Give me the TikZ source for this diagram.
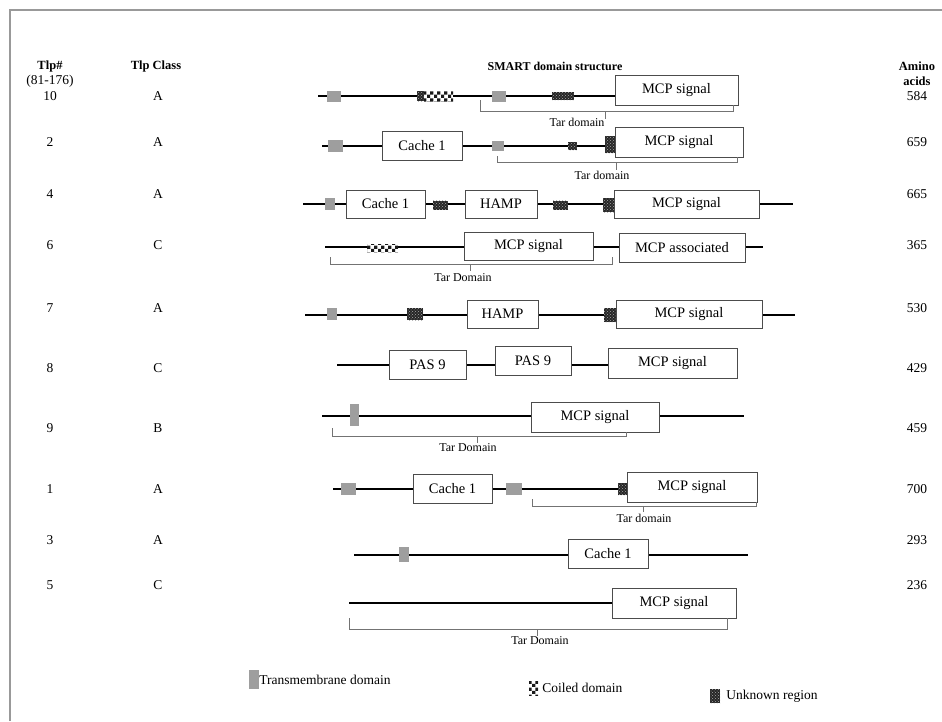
\documentclass[tikz,border=0pt]{standalone}
\usepackage{fontspec}
\setmainfont{Liberation Serif}
\usetikzlibrary{patterns, patterns.meta}

\tikzdeclarepattern{
  name=damier, type=uncolored,
  bottom left={(0pt,0pt)}, top right={(7pt,7pt)},
  tile size={(7pt,7pt)},
  code={
    \fill (0pt,0pt) rectangle (3.5pt,3.5pt);
    \fill (3.5pt,3.5pt) rectangle (7pt,7pt);
  }
}

\begin{document}
\begin{tikzpicture}[
  x=1pt, y=-1pt,
  taglia/.style 2 args={minimum width=#1pt, minimum height=#2pt},
  catena/.style={draw=black, line width=2.4pt},
  dominio/.style={draw=black!70, line width=0.9pt, fill=white, inner sep=0pt,
                  font=\fontsize{14.5}{16}\selectfont},
  tm/.style={fill=black!38, inner sep=0pt},
  spirale/.style={fill=white, inner sep=0pt,
                  postaction={pattern=damier, pattern color=black!90}},
  ignoto/.style={fill=black!85, inner sep=0pt,
                 postaction={pattern=crosshatch dots, pattern color=black!35}},
  staffa/.style={draw=black!55, line width=0.8pt},
  etichetta/.style={inner sep=1pt, font=\fontsize{13.5}{15}\selectfont},
  tar/.style={inner sep=1pt, font=\fontsize{12}{13}\selectfont},
  testata/.style={inner sep=1pt, font=\bfseries\fontsize{12.5}{14}\selectfont}
]
\useasboundingbox (0,0) rectangle (942,721);

% ---- cornice (solo lato sinistro e superiore visibili)
\draw[black!40, line width=1.5pt] (10,721) -- (10,10) -- (942,10);

% ---- intestazione -------------------------------------------------
\node[testata] (hnum) at (50,66) {Tlp\#};
\node[etichetta] (hrange) at (50,81) {(81-176)};
\node[testata] (hcls) at (156,66) {Tlp Class};
\node[testata, font=\bfseries\fontsize{12}{14}\selectfont] (hsmart) at (555,66) {SMART domain structure};
\node[testata] (hamino) at (917,66) {Amino};
\node[testata] (hacids) at (917,81) {acids};

\foreach \n/\c/\a/\y in {10/A/584/96, 2/A/659/142, 4/A/665/194, 6/C/365/245,
                         7/A/530/308, 8/C/429/368, 9/B/459/428, 1/A/700/489,
                         3/A/293/540, 5/C/236/585} {
  \node[etichetta] (num\n) at (50,\y) {\n};
  \node[etichetta] (cls\n) at (158,\y) {\c};
  \node[etichetta] (aa\n) at (917,\y) {\a};
}

% ---- Tlp 10 ---------------------------------------------------------
\coordinate (r10s) at (318,96);
\coordinate (r10e) at (615,96);
\draw[catena] (r10s) -- (r10e);
\node[tm, taglia={14}{11}] (r10tm1) at (334,96.5) {};
\node[ignoto, taglia={7}{10}] (r10ig1) at (420.5,96) {};
\node[spirale, taglia={29}{10}] (r10cc) at (438.5,96) {};
\node[tm, taglia={14}{11}] (r10tm2) at (499,96.5) {};
\node[ignoto, taglia={22}{8}] (r10ig2) at (563,96) {};
\node[dominio, taglia={123}{30}] (r10mcp) at (676.5,90) {MCP signal};
\draw[staffa] (480,100) -- (480,111) -| (733,105);
\draw[staffa] (605,111) -- (605,119);
\node[tar] (r10tar) at (577,122) {Tar domain};

% ---- Tlp 2 ----------------------------------------------------------
\coordinate (r2s) at (322,146);
\coordinate (r2e) at (615,146);
\draw[catena] (r2s) -- (r2e);
\node[tm, taglia={15}{12}] (r2tm1) at (335.5,146) {};
\node[dominio, taglia={80}{29}] (r2cache) at (422,145.5) {Cache 1};
\node[tm, taglia={12}{10}] (r2tm2) at (498,146) {};
\node[ignoto, taglia={9}{8}] (r2ig1) at (572.5,146) {};
\node[ignoto, taglia={10}{17}] (r2ig2) at (610,144.5) {};
\node[dominio, taglia={128}{30}] (r2mcp) at (679,142) {MCP signal};
\draw[staffa] (497,156) -- (497,162) -| (737,157);
\draw[staffa] (616,162) -- (616,170);
\node[tar] (r2tar) at (602,175) {Tar domain};

% ---- Tlp 4 ----------------------------------------------------------
\coordinate (r4s) at (303,204);
\coordinate (r4e) at (793,204);
\draw[catena] (r4s) -- (r4e);
\node[tm, taglia={10}{12}] (r4tm) at (330,204) {};
\node[dominio, taglia={79}{28}] (r4cache) at (385.5,204) {Cache 1};
\node[ignoto, taglia={15}{9}] (r4ig1) at (440.5,205) {};
\node[dominio, taglia={72}{28}] (r4hamp) at (501,204) {HAMP};
\node[ignoto, taglia={15}{9}] (r4ig2) at (560.5,205) {};
\node[ignoto, taglia={11}{14}] (r4ig3) at (608.5,205) {};
\node[dominio, taglia={145}{28}] (r4mcp) at (686.5,204) {MCP signal};

% ---- Tlp 6 ----------------------------------------------------------
\coordinate (r6s) at (325,247);
\coordinate (r6e) at (763,247);
\draw[catena] (r6s) -- (r6e);
\node[spirale, taglia={31}{8}] (r6cc) at (382.5,248) {};
\node[dominio, taglia={129}{28}] (r6mcp) at (528.5,246) {MCP signal};
\node[dominio, taglia={126}{29}] (r6assoc) at (682,247.5) {MCP associated};
\draw[staffa] (330,257) -- (330,264) -| (612,257);
\draw[staffa] (470,264) -- (470,271);
\node[tar] (r6tar) at (463,278) {Tar Domain};

% ---- Tlp 7 ----------------------------------------------------------
\coordinate (r7s) at (305,315);
\coordinate (r7e) at (795,315);
\draw[catena] (r7s) -- (r7e);
\node[tm, taglia={10}{12}] (r7tm) at (332,314) {};
\node[ignoto, taglia={16}{12}] (r7ig1) at (415,314) {};
\node[dominio, taglia={71}{28}] (r7hamp) at (502.5,314) {HAMP};
\node[ignoto, taglia={12}{14}] (r7ig2) at (610,315) {};
\node[dominio, taglia={146}{28}] (r7mcp) at (689,314) {MCP signal};

% ---- Tlp 8 ----------------------------------------------------------
\coordinate (r8s) at (337,365);
\coordinate (r8e) at (608,365);
\draw[catena] (r8s) -- (r8e);
\node[dominio, taglia={77}{29}] (r8pas1) at (427.5,364.5) {PAS 9};
\node[dominio, taglia={76}{29}] (r8pas2) at (533,360.5) {PAS 9};
\node[dominio, taglia={129}{30}] (r8mcp) at (672.5,363) {MCP signal};

% ---- Tlp 9 ----------------------------------------------------------
\coordinate (r9s) at (322,416);
\coordinate (r9e) at (744,416);
\draw[catena] (r9s) -- (r9e);
\node[tm, taglia={9}{22}] (r9tm) at (354.5,415) {};
\node[dominio, taglia={128}{30}] (r9mcp) at (595,417) {MCP signal};
\draw[staffa] (332,428) -- (332,436) -| (626,432);
\draw[staffa] (477,436) -- (477,443);
\node[tar] (r9tar) at (468,448) {Tar Domain};

% ---- Tlp 1 ----------------------------------------------------------
\coordinate (r1s) at (333,489);
\coordinate (r1e) at (627,489);
\draw[catena] (r1s) -- (r1e);
\node[tm, taglia={15}{12}] (r1tm1) at (348.5,489) {};
\node[dominio, taglia={79}{29}] (r1cache) at (452.5,488.5) {Cache 1};
\node[tm, taglia={16}{12}] (r1tm2) at (514,489) {};
\node[ignoto, taglia={9}{12}] (r1ig) at (622.5,489) {};
\node[dominio, taglia={130}{30}] (r1mcp) at (692,487) {MCP signal};
\draw[staffa] (532,499) -- (532,506) -| (756,502);
\draw[staffa] (643,506) -- (643,512);
\node[tar] (r1tar) at (644,518) {Tar domain};

% ---- Tlp 3 ----------------------------------------------------------
\coordinate (r3s) at (354,555);
\coordinate (r3e) at (748,555);
\draw[catena] (r3s) -- (r3e);
\node[tm, taglia={10}{15}] (r3tm) at (404,554.5) {};
\node[dominio, taglia={80}{29}] (r3cache) at (608,553.5) {Cache 1};

% ---- Tlp 5 ----------------------------------------------------------
\coordinate (r5s) at (349,603);
\coordinate (r5e) at (612,603);
\draw[catena] (r5s) -- (r5e);
\node[dominio, taglia={124}{30}] (r5mcp) at (674,603) {MCP signal};
\draw[staffa] (349,618) -- (349,629) -| (727,618);
\draw[staffa] (537,629) -- (537,636);
\node[tar] (r5tar) at (540,641) {Tar Domain};

% ---- legenda --------------------------------------------------------
\node[tm, taglia={10}{19}] (legtm) at (254,679.5) {};
\node[etichetta, anchor=west, inner sep=0pt] (legtmtxt) at (legtm.east) {Transmembrane domain};
\node[spirale, taglia={9}{14}] (legcc) at (533.5,688) {};
\node[etichetta, anchor=west] (legcctxt) at ([xshift=3pt]legcc.east) {Coiled domain};
\node[ignoto, taglia={10}{14}] (legig) at (715,696) {};
\node[etichetta, anchor=west] (legigtxt) at ([xshift=5pt]legig.east) {Unknown region};

\end{tikzpicture}
\end{document}
